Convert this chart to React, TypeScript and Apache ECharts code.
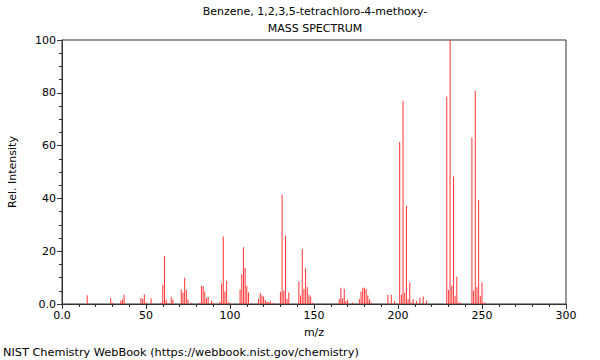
import React, { useEffect, useRef } from "react";
import * as echarts from "echarts";

const titleLine1 = "Benzene, 1,2,3,5-tetrachloro-4-methoxy-";
const titleLine2 = "MASS SPECTRUM";
const footer = "NIST Chemistry WebBook (https://webbook.nist.gov/chemistry)";

const mzValues = [
  15, 29, 30, 35, 36, 37, 47, 48, 49, 50, 53, 59, 60, 61, 62, 63, 65, 66,
  71, 72, 73, 74, 75, 77, 82, 83, 84, 85, 86, 87, 89, 90, 94, 95, 96, 97, 98, 99, 100,
  106, 107, 108, 109, 110, 111, 113, 117, 118, 119, 120, 121, 122, 123, 124, 126,
  130, 131, 132, 133, 134, 135, 141, 142, 143, 144, 145, 146, 147, 148, 149,
  165, 166, 167, 168, 169, 170, 173, 177, 178, 179, 180, 181, 182, 183, 184,
  194, 196, 198, 201, 202, 203, 204, 205, 206, 207, 208, 209, 211, 213, 215, 217,
  229, 230, 231, 232, 233, 234, 235, 236, 237,
  244, 245, 246, 247, 248, 249, 250, 251, 252,
];
const intensities = [
  3.3, 2.2, 0.4, 1.3, 1.8, 3.5, 2.4, 1.9, 3.7, 0.6, 2.2, 0.5, 7.3, 18.2, 1.7, 0.4, 2.7, 1.7,
  5.5, 4.4, 9.9, 5.3, 1.7, 0.5, 0.5, 6.8, 6.8, 4.7, 2.2, 2.7, 1.2, 0.5, 0.8, 7.8, 25.6, 4.7, 8.7, 0.8, 0.3,
  5.5, 11.4, 21.5, 13.6, 6.8, 4.4, 0.3, 2.0, 4.2, 3.3, 2.8, 1.5, 0.8, 0.8, 1.0, 0.4,
  4.5, 41.4, 5.0, 25.9, 2.0, 4.4, 8.4, 3.2, 20.8, 5.8, 13.6, 6.3, 3.5, 2.8, 0.5,
  1.9, 6.2, 2.2, 5.8, 1.1, 1.6, 0.6, 1.9, 4.7, 6.2, 6.2, 5.7, 3.3, 1.8, 0.6,
  3.5, 3.5, 1.1, 61.5, 3.5, 77.0, 4.3, 37.2, 1.8, 8.1, 0.6, 1.9, 1.1, 2.4, 2.8, 1.3,
  78.6, 5.3, 100, 6.9, 48.3, 3.1, 10.3, 0.5, 0.6,
  63.1, 5.1, 80.8, 6.3, 39.3, 3.1, 8.2, 0.5, 0.5,
];

const fmt = (v: number) => (v === 0 ? "0.0" : String(v));

export default function App() {
  const ref = useRef<HTMLDivElement>(null);
  useEffect(() => {
    if (!ref.current) return;
    const chart = echarts.init(ref.current, undefined, { renderer: "svg" });
    const font = "DejaVu Sans";
    const ts = { fontSize: 11, fontWeight: "normal", color: "#000", fontFamily: font };
    chart.setOption({
      animation: false,
      textStyle: { fontFamily: font },
      title: [
        { text: titleLine1, left: 315, top: 6, padding: 0, textAlign: "center", textStyle: ts },
        { text: titleLine2, left: 315, top: 23, padding: 0, textAlign: "center", textStyle: ts },
        { text: footer, left: 3, top: 347, padding: 0, textStyle: { ...ts, fontSize: 11.3 } },
      ],
      grid: {
        left: 62,
        right: 34,
        top: 40,
        bottom: 56,
        show: true,
        borderColor: "#333",
        borderWidth: 1,
        containLabel: false,
        outerBoundsMode: "none",
      },
      xAxis: {
        type: "value",
        min: 0,
        max: 300,
        interval: 50,
        name: "m/z",
        nameLocation: "middle",
        nameGap: 23,
        nameTextStyle: { fontSize: 11, color: "#000", fontFamily: font },
        axisLine: { show: true, onZero: false, lineStyle: { color: "#333" } },
        axisTick: { show: true, length: 5, lineStyle: { color: "#333" } },
        minorTick: { show: true, splitNumber: 5, length: 3, lineStyle: { color: "#333" } },
        axisLabel: { formatter: fmt, fontSize: 11, color: "#000", margin: 6, fontFamily: font },
        splitLine: { show: false },
      },
      yAxis: {
        type: "value",
        min: 0,
        max: 100,
        interval: 20,
        name: "Rel. Intensity",
        nameLocation: "middle",
        nameGap: 44,
        nameTextStyle: { fontSize: 11, color: "#000", fontFamily: font },
        axisLine: { show: true, lineStyle: { color: "#333" } },
        axisTick: { show: true, length: 5, lineStyle: { color: "#333" } },
        minorTick: { show: true, splitNumber: 4, length: 3, lineStyle: { color: "#333" } },
        axisLabel: { formatter: fmt, fontSize: 11, color: "#000", margin: 6, fontFamily: font },
        splitLine: { show: false },
      },
      series: [
        {
          type: "bar",
          barWidth: 1,
          itemStyle: { color: "#ff3333" },
          data: mzValues.map((m, i) => [m, intensities[i]]),
        },
      ],
    });
    return () => chart.dispose();
  }, []);
  return (
    <div
      ref={ref}
      style={{ position: "fixed", left: 0, top: 0, width: 600, height: 360, background: "#fff" }}
    />
  );
}
